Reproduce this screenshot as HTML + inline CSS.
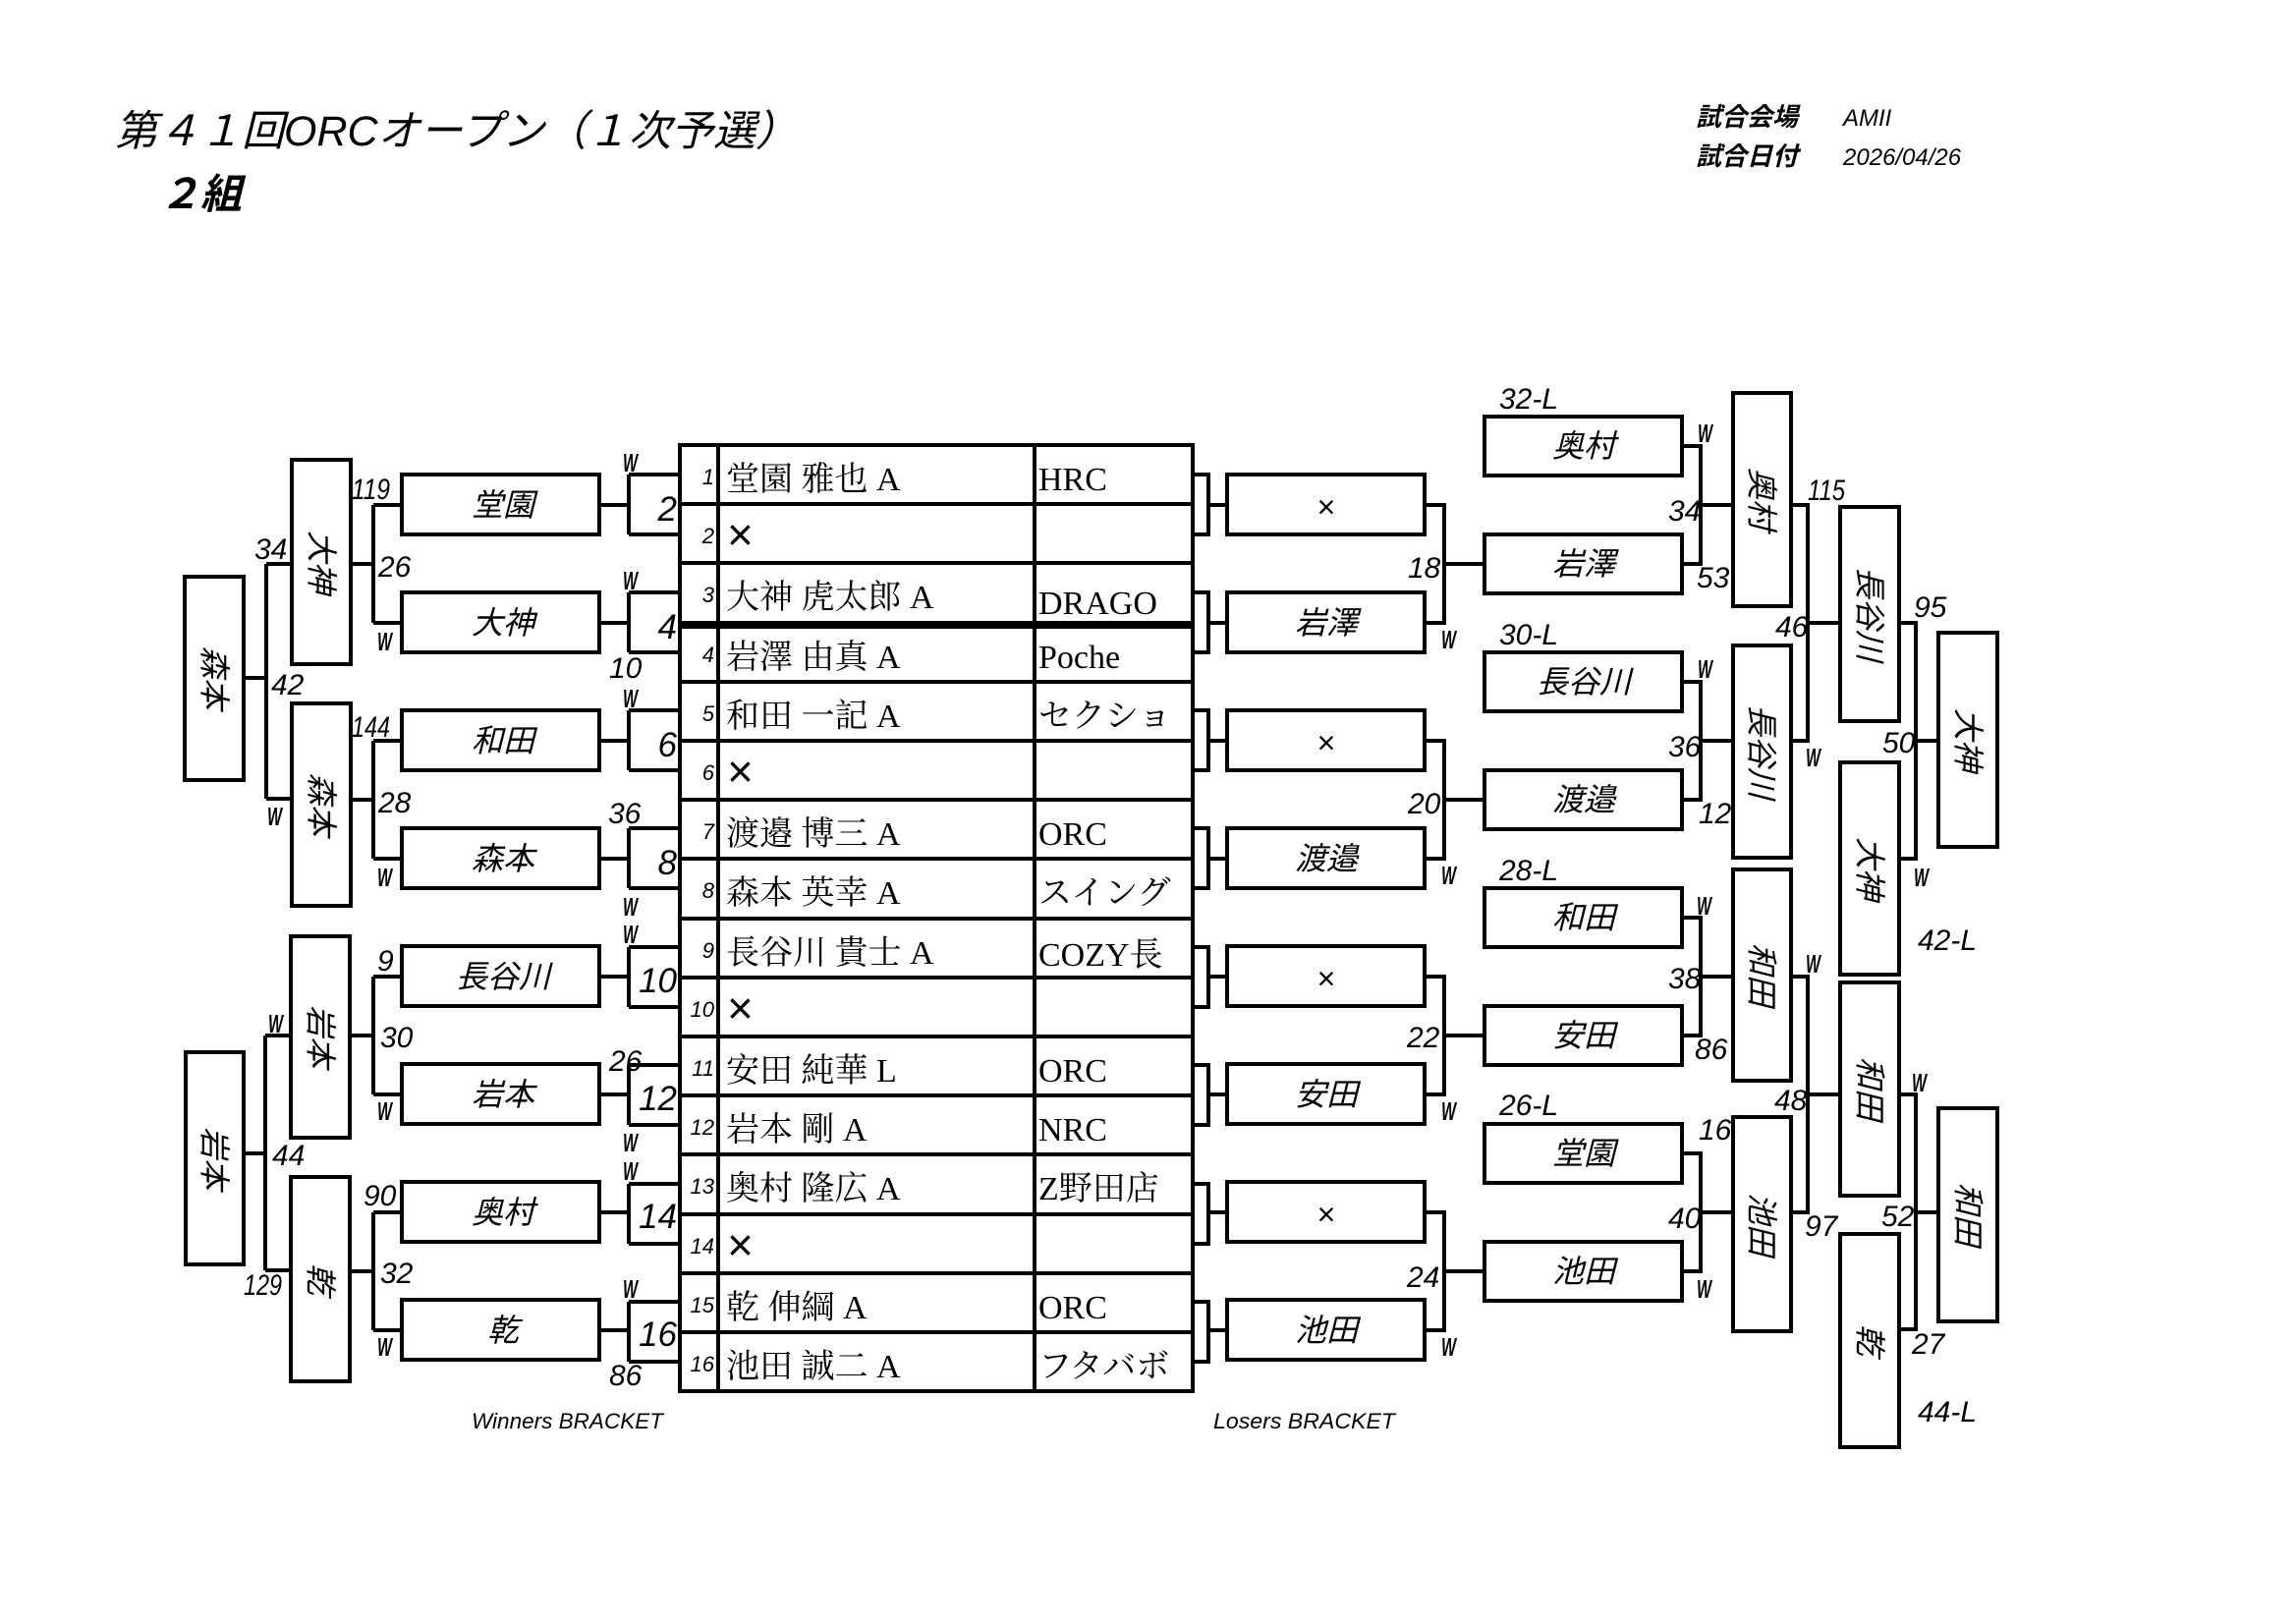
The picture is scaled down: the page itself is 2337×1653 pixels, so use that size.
<!DOCTYPE html>
<html><head><meta charset="utf-8"><style>
html,body{margin:0;padding:0;background:#fff;}
svg{display:block;}
.b{fill:#fff;stroke:#000;stroke-width:4;}
.l{fill:none;stroke:#000;stroke-width:4;}
.n{font-family:"Liberation Sans",sans-serif;font-style:italic;font-size:30px;}
.w{font-family:"Liberation Sans",sans-serif;font-style:italic;font-weight:bold;font-size:26px;}
.rn{font-family:"Liberation Sans",sans-serif;font-style:italic;font-size:35px;text-anchor:end;}
.bl{font-family:"Liberation Sans","Noto Sans CJK JP",sans-serif;font-style:italic;font-size:32px;text-anchor:middle;}
.tn{font-family:"Liberation Sans",sans-serif;font-style:italic;font-size:22px;text-anchor:end;}
.nm{font-family:"Liberation Serif","Noto Serif CJK SC",serif;font-size:34px;}
.x{font-family:"Liberation Sans",sans-serif;font-size:46px;}
.ft{font-family:"Liberation Sans",sans-serif;font-style:italic;font-size:22px;}
</style></head><body>
<svg width="2337" height="1653" viewBox="0 0 2337 1653" xmlns="http://www.w3.org/2000/svg">
<text x="117" y="148" style="font-family:'Liberation Sans','Noto Sans CJK JP',sans-serif;font-style:italic;font-size:43px;">第４１回ORCオープン（１次予選）</text>
<text x="162" y="212" style="font-family:'Liberation Sans','Noto Sans CJK JP',sans-serif;font-style:italic;font-weight:bold;font-size:42px;">２組</text>
<text x="1726" y="128" style="font-family:'Liberation Sans','Noto Sans CJK JP',sans-serif;font-style:italic;font-weight:bold;font-size:26px;">試合会場</text>
<text x="1876" y="128" style="font-family:'Liberation Sans',sans-serif;font-style:italic;font-size:24px;">AMII</text>
<text x="1726" y="168" style="font-family:'Liberation Sans','Noto Sans CJK JP',sans-serif;font-style:italic;font-weight:bold;font-size:26px;">試合日付</text>
<text x="1876" y="168" style="font-family:'Liberation Sans',sans-serif;font-style:italic;font-size:24px;">2026/04/26</text>

<text class="n" x="1729" y="838">127</text>
<text class="n" x="1729" y="1160">160</text>

<path class="l" d="M248,690H271M271,574V813M271,574H297M271,813H297"/>
<path class="l" d="M248,1174H270M270,1054V1293M270,1054H296M270,1293H296"/>
<path class="l" d="M357,574H380M380,514V634M380,514H409M380,634H409"/>
<path class="l" d="M357,814H380M380,754V874M380,754H409M380,874H409"/>
<path class="l" d="M356,1054H380M380,994V1114M380,994H409M380,1114H409"/>
<path class="l" d="M356,1294H380M380,1234V1354M380,1234H409M380,1354H409"/>
<path class="l" d="M610,514H640M640,483V544M640,483H692M640,544H692
M610,634H640M640,603V664M640,603H692M640,664H692
M610,754H640M640,723V784M640,723H692M640,784H692
M610,874H640M640,843V904M640,843H692M640,904H692
M610,994H640M640,964V1025M640,964H692M640,1025H692
M610,1114H640M640,1084V1145M640,1084H692M640,1145H692
M610,1234H640M640,1205V1266M640,1205H692M640,1266H692
M610,1354H640M640,1325V1386M640,1325H692M640,1386H692"/>

<path class="l" d="M1214,483H1230V544H1214M1230,514H1249
M1214,603H1230V664H1214M1230,634H1249
M1214,723H1230V784H1214M1230,754H1249
M1214,843H1230V904H1214M1230,874H1249
M1214,964H1230V1025H1214M1230,994H1249
M1214,1084H1230V1145H1214M1230,1114H1249
M1214,1205H1230V1266H1214M1230,1234H1249
M1214,1325H1230V1386H1214M1230,1354H1249"/>
<path class="l" d="M1450,514H1470V634H1450M1470,574H1511
M1450,754H1470V874H1450M1470,814H1511
M1450,994H1470V1114H1450M1470,1054H1511
M1450,1234H1470V1354H1450M1470,1294H1511"/>
<path class="l" d="M1712,454H1731V574H1712M1731,514H1764
M1712,694H1731V814H1712M1731,754H1764
M1712,934H1731V1054H1712M1731,994H1764
M1712,1174H1731V1294H1712M1731,1234H1764"/>
<path class="l" d="M1823,514H1840V754H1823M1840,634H1873
M1823,994H1840V1234H1823M1840,1114H1873"/>
<path class="l" d="M1933,634H1950V874H1933M1950,754H1973
M1933,1114H1950V1353H1933M1950,1234H1973"/>

<rect class="b" x="188" y="587" width="60" height="207"/>
<rect class="b" x="189" y="1071" width="59" height="216"/>
<rect class="b" x="297" y="468" width="60" height="208"/>
<rect class="b" x="297" y="716" width="60" height="206"/>
<rect class="b" x="296" y="953" width="60" height="205"/>
<rect class="b" x="296" y="1198" width="60" height="208"/>
<rect class="b" x="409" y="483" width="201" height="61"/>
<rect class="b" x="409" y="603" width="201" height="61"/>
<rect class="b" x="409" y="723" width="201" height="61"/>
<rect class="b" x="409" y="843" width="201" height="61"/>
<rect class="b" x="409" y="963" width="201" height="61"/>
<rect class="b" x="409" y="1083" width="201" height="61"/>
<rect class="b" x="409" y="1203" width="201" height="61"/>
<rect class="b" x="409" y="1323" width="201" height="61"/>
<text class="bl" x="512" y="525">堂園</text>
<text class="bl" x="512" y="645">大神</text>
<text class="bl" x="512" y="765">和田</text>
<text class="bl" x="512" y="885">森本</text>
<text class="bl" x="512" y="1005">長谷川</text>
<text class="bl" x="512" y="1125">岩本</text>
<text class="bl" x="512" y="1245">奥村</text>
<text class="bl" x="512" y="1365">乾</text>
<text class="bl" transform="translate(218,690) rotate(90)" y="11">森本</text>
<text class="bl" transform="translate(218,1179) rotate(90)" y="11">岩本</text>
<text class="bl" transform="translate(327,572) rotate(90)" y="11">大神</text>
<text class="bl" transform="translate(327,819) rotate(90)" y="11">森本</text>
<text class="bl" transform="translate(326,1055) rotate(90)" y="11">岩本</text>
<text class="bl" transform="translate(326,1302) rotate(90)" y="11">乾</text>

<rect class="b" x="692" y="453" width="522" height="963"/>
<path class="l" d="M731,453V1416M1053,453V1416
M692,513H1214M692,573H1214M692,634H1214M692,694H1214M692,754H1214M692,814H1214M692,874H1214
M692,935H1214M692,995H1214M692,1055H1214M692,1115H1214M692,1175H1214M692,1236H1214M692,1296H1214M692,1356H1214"/>
<path class="l" d="M692,638H1214" />
<g class="tn">
<text x="727" y="493">1</text><text x="727" y="553">2</text><text x="727" y="613">3</text><text x="727" y="674">4</text>
<text x="727" y="734">5</text><text x="727" y="794">6</text><text x="727" y="854">7</text><text x="727" y="914">8</text>
<text x="727" y="975">9</text><text x="727" y="1035">10</text><text x="727" y="1095">11</text><text x="727" y="1155">12</text>
<text x="727" y="1215">13</text><text x="727" y="1276">14</text><text x="727" y="1336">15</text><text x="727" y="1396">16</text>
</g>
<g class="nm">
<text x="739" y="499">堂園 雅也 A</text><text x="1057" y="499">HRC</text>
<text x="739" y="619">大神 虎太郎 A</text><text x="1057" y="625">DRAGO</text>
<text x="739" y="680">岩澤 由真 A</text><text x="1057" y="680">Poche</text>
<text x="739" y="740">和田 一記 A</text><text x="1057" y="740">セクショ</text>
<text x="739" y="860">渡邉 博三 A</text><text x="1057" y="860">ORC</text>
<text x="739" y="920">森本 英幸 A</text><text x="1057" y="920">スイング</text>
<text x="739" y="981">長谷川 貴士 A</text><text x="1057" y="983">COZY長</text>
<text x="739" y="1101">安田 純華 L</text><text x="1057" y="1101">ORC</text>
<text x="739" y="1161">岩本 剛 A</text><text x="1057" y="1161">NRC</text>
<text x="739" y="1221">奥村 隆広 A</text><text x="1057" y="1221">Z野田店</text>
<text x="739" y="1342">乾 伸綱 A</text><text x="1057" y="1342">ORC</text>
<text x="739" y="1402">池田 誠二 A</text><text x="1057" y="1402">フタバボ</text>
</g>
<g class="x">
<text x="740" y="560">×</text>
<text x="740" y="801">×</text>
<text x="740" y="1042">×</text>
<text x="740" y="1283">×</text>
</g>

<rect class="b" x="1249" y="483" width="201" height="61"/>
<rect class="b" x="1249" y="603" width="201" height="61"/>
<rect class="b" x="1249" y="723" width="201" height="61"/>
<rect class="b" x="1249" y="843" width="201" height="61"/>
<rect class="b" x="1249" y="963" width="201" height="61"/>
<rect class="b" x="1249" y="1083" width="201" height="61"/>
<rect class="b" x="1249" y="1203" width="201" height="61"/>
<rect class="b" x="1249" y="1323" width="201" height="61"/>
<text class="bl" x="1350" y="527" style="font-style:normal;font-size:32px">×</text>
<text class="bl" x="1350" y="645">岩澤</text>
<text class="bl" x="1350" y="767" style="font-style:normal;font-size:32px">×</text>
<text class="bl" x="1350" y="885">渡邉</text>
<text class="bl" x="1350" y="1007" style="font-style:normal;font-size:32px">×</text>
<text class="bl" x="1350" y="1125">安田</text>
<text class="bl" x="1350" y="1247" style="font-style:normal;font-size:32px">×</text>
<text class="bl" x="1350" y="1365">池田</text>

<rect class="b" x="1511" y="424" width="201" height="60"/>
<rect class="b" x="1511" y="544" width="201" height="60"/>
<rect class="b" x="1511" y="664" width="201" height="60"/>
<rect class="b" x="1511" y="784" width="201" height="60"/>
<rect class="b" x="1511" y="904" width="201" height="60"/>
<rect class="b" x="1511" y="1024" width="201" height="60"/>
<rect class="b" x="1511" y="1144" width="201" height="60"/>
<rect class="b" x="1511" y="1264" width="201" height="60"/>
<text class="bl" x="1612" y="465">奥村</text>
<text class="bl" x="1612" y="585">岩澤</text>
<text class="bl" x="1612" y="705">長谷川</text>
<text class="bl" x="1612" y="825">渡邉</text>
<text class="bl" x="1612" y="945">和田</text>
<text class="bl" x="1612" y="1065">安田</text>
<text class="bl" x="1612" y="1185">堂園</text>
<text class="bl" x="1612" y="1305">池田</text>

<rect class="b" x="1764" y="400" width="59" height="217"/>
<rect class="b" x="1764" y="657" width="59" height="216"/>
<rect class="b" x="1764" y="885" width="59" height="215"/>
<rect class="b" x="1764" y="1137" width="59" height="218"/>
<text class="bl" transform="translate(1793,508) rotate(90)" y="11">奥村</text>
<text class="bl" transform="translate(1793,765) rotate(90)" y="11">長谷川</text>
<text class="bl" transform="translate(1793,992) rotate(90)" y="11">和田</text>
<text class="bl" transform="translate(1793,1246) rotate(90)" y="11">池田</text>

<rect class="b" x="1873" y="516" width="60" height="218"/>
<rect class="b" x="1873" y="776" width="60" height="216"/>
<rect class="b" x="1873" y="1000" width="60" height="217"/>
<rect class="b" x="1873" y="1256" width="60" height="217"/>
<text class="bl" transform="translate(1903,625) rotate(90)" y="11">長谷川</text>
<text class="bl" transform="translate(1903,884) rotate(90)" y="11">大神</text>
<text class="bl" transform="translate(1903,1108) rotate(90)" y="11">和田</text>
<text class="bl" transform="translate(1903,1364) rotate(90)" y="11">乾</text>

<rect class="b" x="1973" y="644" width="60" height="218"/>
<rect class="b" x="1973" y="1128" width="60" height="217"/>
<text class="bl" transform="translate(2003,753) rotate(90)" y="11">大神</text>
<text class="bl" transform="translate(2003,1236) rotate(90)" y="11">和田</text>

<g class="n">
<text x="259" y="569">34</text><text x="276" y="707">42</text>
<text x="358" y="508" textLength="39" lengthAdjust="spacingAndGlyphs">119</text><text x="385" y="587">26</text>
<text x="358" y="750" textLength="39" lengthAdjust="spacingAndGlyphs">144</text><text x="385" y="827">28</text>
<text x="277" y="1186">44</text><text x="248" y="1318" textLength="39" lengthAdjust="spacingAndGlyphs">129</text>
<text x="384" y="988">9</text><text x="387" y="1066">30</text>
<text x="370" y="1227">90</text><text x="387" y="1306">32</text>
<text x="620" y="690">10</text><text x="619" y="838">36</text>
<text x="620" y="1090">26</text><text x="620" y="1410">86</text>
</g>
<g class="rn">
<text x="689" y="530">2</text><text x="689" y="650">4</text><text x="689" y="770">6</text><text x="689" y="890">8</text>
<text x="689" y="1010">10</text><text x="689" y="1130">12</text><text x="689" y="1250">14</text><text x="689" y="1370">16</text>
</g>
<g class="w">
<text x="272" y="840" textLength="15" lengthAdjust="spacingAndGlyphs">W</text>
<text x="384" y="662" textLength="15" lengthAdjust="spacingAndGlyphs">W</text>
<text x="384" y="902" textLength="15" lengthAdjust="spacingAndGlyphs">W</text>
<text x="273" y="1051" textLength="15" lengthAdjust="spacingAndGlyphs">W</text>
<text x="384" y="1140" textLength="15" lengthAdjust="spacingAndGlyphs">W</text>
<text x="384" y="1380" textLength="15" lengthAdjust="spacingAndGlyphs">W</text>
<text x="634" y="480" textLength="15" lengthAdjust="spacingAndGlyphs">W</text>
<text x="634" y="600" textLength="15" lengthAdjust="spacingAndGlyphs">W</text>
<text x="634" y="720" textLength="15" lengthAdjust="spacingAndGlyphs">W</text>
<text x="634" y="932" textLength="15" lengthAdjust="spacingAndGlyphs">W</text>
<text x="634" y="960" textLength="15" lengthAdjust="spacingAndGlyphs">W</text>
<text x="634" y="1172" textLength="15" lengthAdjust="spacingAndGlyphs">W</text>
<text x="634" y="1201" textLength="15" lengthAdjust="spacingAndGlyphs">W</text>
<text x="634" y="1321" textLength="15" lengthAdjust="spacingAndGlyphs">W</text>
</g>

<g class="n">
<text x="1433" y="588">18</text><text x="1433" y="828">20</text><text x="1432" y="1066">22</text><text x="1432" y="1310">24</text>
<text x="1698" y="530">34</text><text x="1727" y="598">53</text>
<text x="1698" y="770">36</text>
<text x="1698" y="1006">38</text><text x="1725" y="1078">86</text>
<text x="1698" y="1250">40</text>
<text x="1840" y="509" textLength="38" lengthAdjust="spacingAndGlyphs">115</text><text x="1807" y="648">46</text>
<text x="1806" y="1130">48</text><text x="1837" y="1258">97</text>
<text x="1948" y="628">95</text><text x="1916" y="766">50</text>
<text x="1915" y="1248">52</text><text x="1946" y="1378">27</text>
<text x="1526" y="416">32-L</text><text x="1526" y="656">30-L</text><text x="1526" y="896">28-L</text><text x="1526" y="1135">26-L</text>
<text x="1952" y="967">42-L</text><text x="1952" y="1447">44-L</text>
</g>
<g class="w">
<text x="1467" y="660" textLength="15" lengthAdjust="spacingAndGlyphs">W</text>
<text x="1467" y="900" textLength="15" lengthAdjust="spacingAndGlyphs">W</text>
<text x="1467" y="1140" textLength="15" lengthAdjust="spacingAndGlyphs">W</text>
<text x="1467" y="1380" textLength="15" lengthAdjust="spacingAndGlyphs">W</text>
<text x="1728" y="450" textLength="15" lengthAdjust="spacingAndGlyphs">W</text>
<text x="1728" y="690" textLength="15" lengthAdjust="spacingAndGlyphs">W</text>
<text x="1727" y="931" textLength="15" lengthAdjust="spacingAndGlyphs">W</text>
<text x="1727" y="1321" textLength="15" lengthAdjust="spacingAndGlyphs">W</text>
<text x="1838" y="780" textLength="15" lengthAdjust="spacingAndGlyphs">W</text>
<text x="1838" y="990" textLength="15" lengthAdjust="spacingAndGlyphs">W</text>
<text x="1948" y="902" textLength="15" lengthAdjust="spacingAndGlyphs">W</text>
<text x="1946" y="1111" textLength="15" lengthAdjust="spacingAndGlyphs">W</text>
</g>

<text class="ft" x="480" y="1454" textLength="195" lengthAdjust="spacingAndGlyphs">Winners BRACKET</text>
<text class="ft" x="1235" y="1454" textLength="185" lengthAdjust="spacingAndGlyphs">Losers BRACKET</text>
</svg>
</body></html>
